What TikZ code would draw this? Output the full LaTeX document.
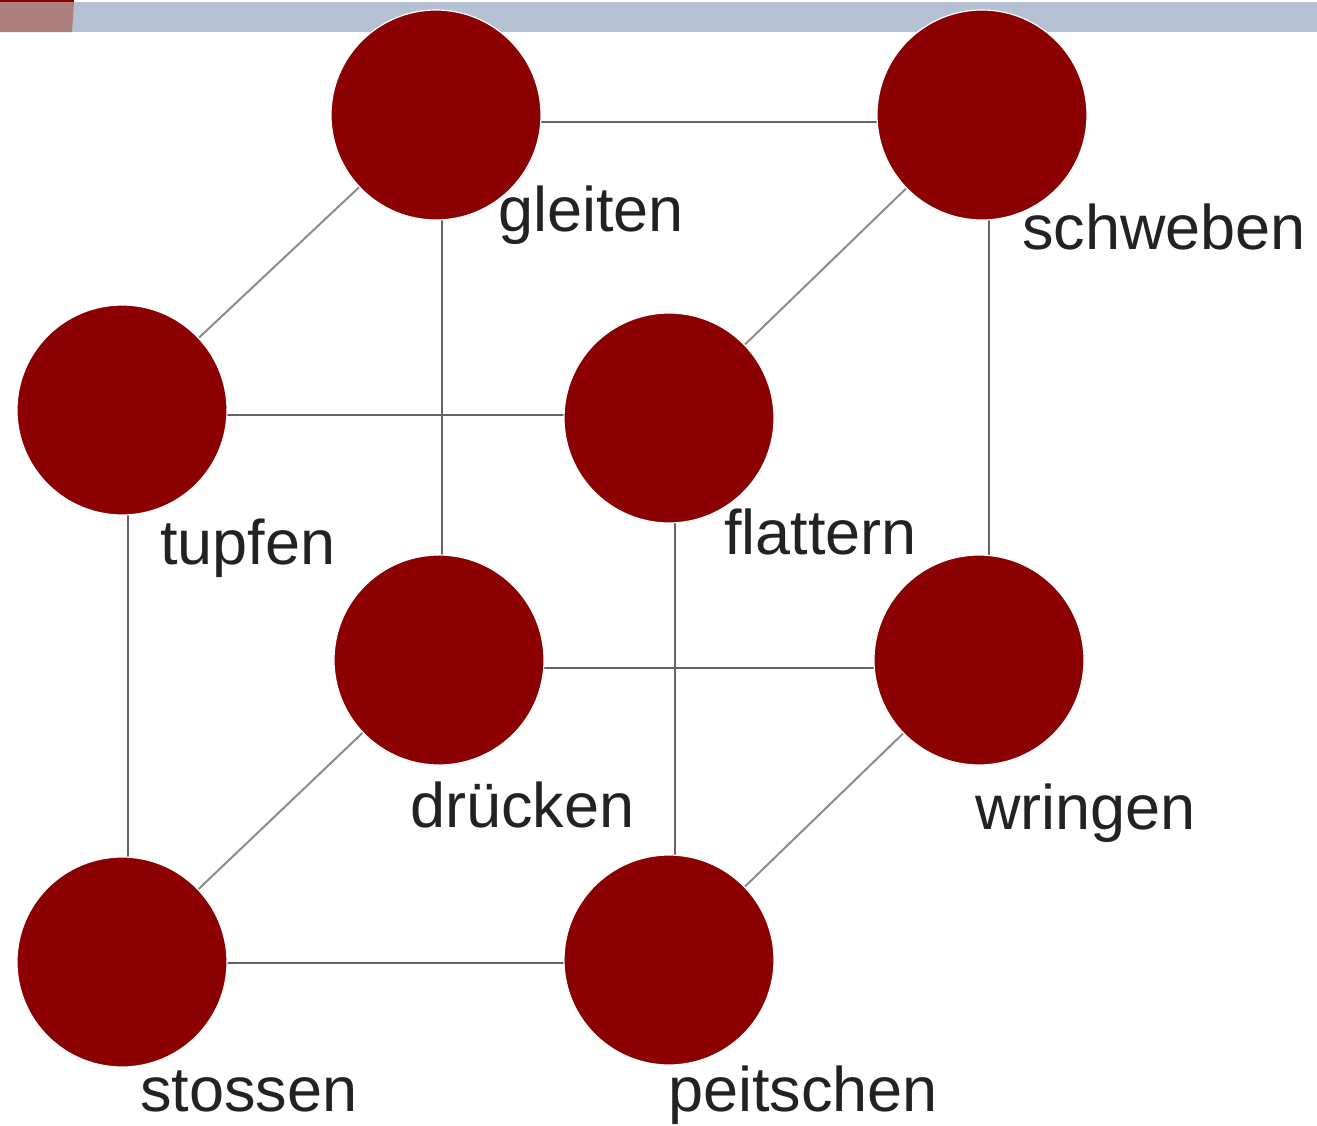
\documentclass[tikz,border=0pt]{standalone}
\usepackage{fontspec}
\setmainfont{Liberation Sans}
\usetikzlibrary{backgrounds}
\definecolor{ball}{RGB}{139,0,0}
\definecolor{barblue}{RGB}{181,193,211}
\definecolor{barpink}{RGB}{173,127,125}
\definecolor{edgegray}{RGB}{100,100,100}
\definecolor{diaggray}{RGB}{140,140,140}
\definecolor{txt}{RGB}{34,34,34}
\tikzset{
  ballnode/.style={circle,fill=ball,draw=white,line width=1.2pt,minimum size=210pt,inner sep=0pt},
  lab/.style={anchor=base west,inner sep=0pt,text=txt,font=\fontsize{63}{63}\selectfont},
  edge/.style={draw=edgegray,line width=2pt},
  diag/.style={draw=diaggray,line width=2pt}
}
\begin{document}
\begin{tikzpicture}[x=1pt,y=-1pt]
\useasboundingbox (0,0) rectangle (1317,1125);
% nodes
\node[ballnode] (gl) at (436,115) {};
\node[ballnode] (sw) at (982,115) {};
\node[ballnode] (tu) at (122,410) {};
\node[ballnode] (fl) at (669,418) {};
\node[ballnode] (dr) at (439,660) {};
\node[ballnode] (wr) at (979,660) {};
\node[ballnode] (st) at (122,962) {};
\node[ballnode] (pe) at (669,960) {};
% labels
\node[lab] (lgl) at (498,231) {gleiten};
\node[lab] (lsw) at (1022,249) {schweben};
\node[lab] (ltu) at (160,564) {tupfen};
\node[lab] (lfl) at (724,554) {flattern};
\node[lab] (ldr) at (410,827) {drücken};
\node[lab] (lwr) at (975,829) {wringen};
\node[lab] (lst) at (140,1111) {stossen};
\node[lab] (lpe) at (668,1111) {peitschen};
% background, top bar and edges
\begin{scope}[on background layer]
\fill[white] (0,0) rectangle (1317,1125);
\fill[barblue] (72,2) rectangle (1317,32);
\fill[barpink] (0,2) -- (74,2) -- (72,32) -- (0,32) -- cycle;
\fill[ball] (0,0) rectangle (74,2);
\draw[edge] ([yshift=-7pt]gl.center) -- ([yshift=-7pt]sw.center);
\draw[edge] ([yshift=-5pt]tu.center) -- ([yshift=3pt]fl.center);
\draw[edge] ([yshift=-8pt]dr.center) -- ([yshift=-8pt]wr.center);
\draw[edge] ([yshift=-1pt]st.center) -- ([yshift=-3pt]pe.center);
\draw[edge] ([xshift=6pt]gl.center) -- ([xshift=3pt]dr.center);
\draw[edge] ([xshift=7pt]sw.center) -- ([xshift=10pt]wr.center);
\draw[edge] ([xshift=6pt]tu.center) -- ([xshift=6pt]st.center);
\draw[edge] ([xshift=6pt]fl.center) -- ([xshift=6pt]pe.center);
\draw[diag] (gl.center) -- (tu.center);
\draw[diag] (sw.center) -- (fl.center);
\draw[diag] (dr.center) -- (st.center);
\draw[diag] (wr.center) -- (pe.center);
\end{scope}
\end{tikzpicture}
\end{document}
